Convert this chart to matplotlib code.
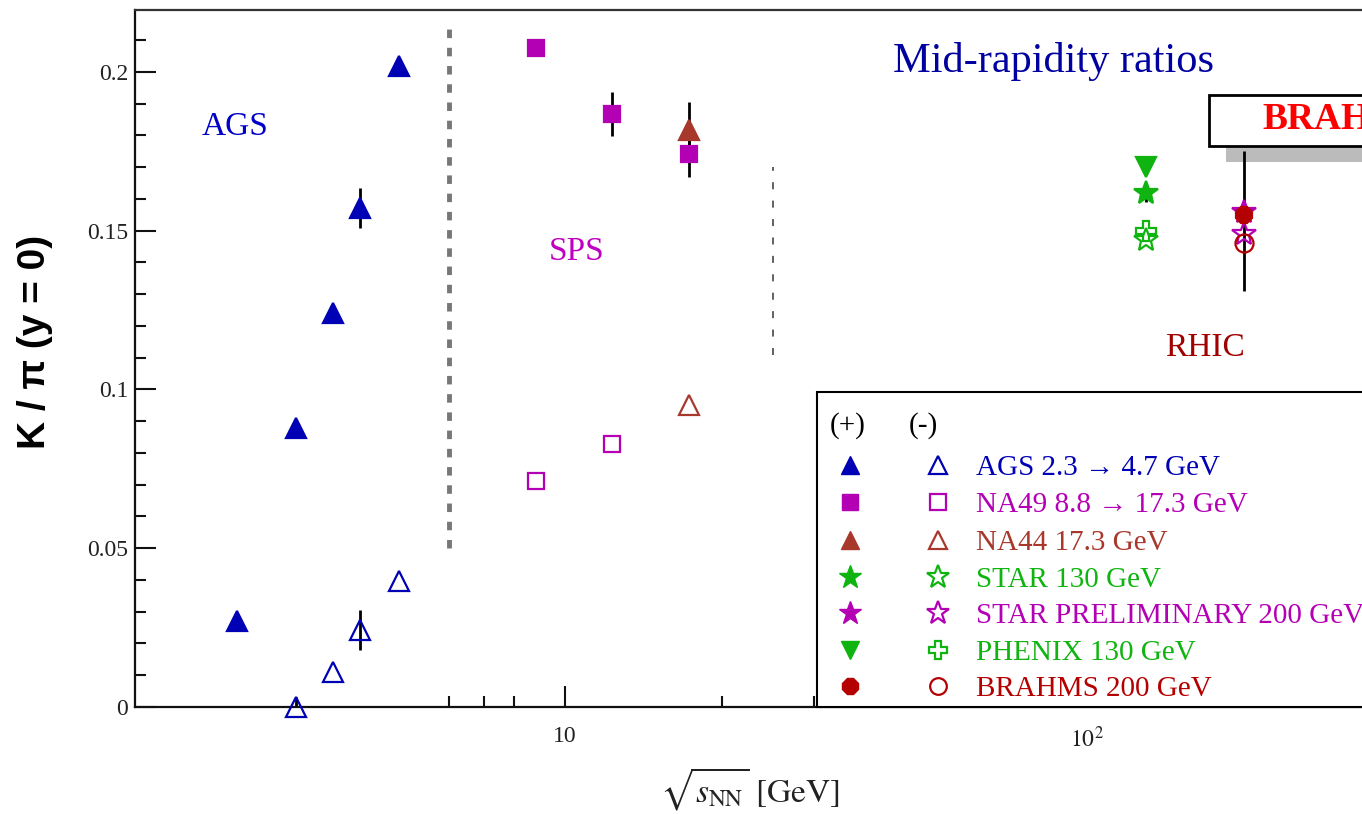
import matplotlib
matplotlib.use("Agg")
import matplotlib.pyplot as plt
from matplotlib.patches import Rectangle
from matplotlib.ticker import FixedLocator, MultipleLocator, NullFormatter

# ---------------- data: K/pi ratios at mid-rapidity ----------------
ags_sqrts_pos = [2.35, 3.05, 3.6, 4.05, 4.8]
ags_kpi_pos = [0.027, 0.088, 0.124, 0.157, 0.202]
ags_err_pos = [0.0, 0.0, 0.0, 0.0063, 0.0]
ags_sqrts_neg = [3.05, 3.6, 4.05, 4.8]
ags_kpi_neg = [0.0, 0.011, 0.0243, 0.0397]
ags_err_neg = [0.003, 0.0, 0.0062, 0.0]

na49_sqrts_pos = [8.8, 12.3, 17.3]
na49_kpi_pos = [0.2076, 0.1868, 0.1742]
na49_err_pos = [0.0, 0.007, 0.0073]
na49_sqrts_neg = [8.8, 12.3]
na49_kpi_neg = [0.0712, 0.0828]

na44_sqrts = [17.3]
na44_kpi_pos = [0.1817]
na44_err_pos = [0.0088]
na44_kpi_neg = [0.0951]

star130_sqrts = [130]
star130_kpi_pos = [0.162]
star130_kpi_neg = [0.147]

phenix130_sqrts = [130]
phenix130_kpi_pos = [0.170]
phenix130_kpi_neg = [0.150]

star200_sqrts = [200]
star200_kpi_pos = [0.156]
star200_kpi_neg = [0.149]

brahms200_sqrts = [200]
brahms200_kpi_pos = [0.155]
brahms200_err_lo = [0.024]
brahms200_err_hi = [0.020]
brahms200_kpi_neg = [0.146]

y_ticks = [0, 0.05, 0.1, 0.15, 0.2]
y_ticklabels = ["0", "0.05", "0.1", "0.15", "0.2"]
x_ticks = [10, 100]
x_ticklabels = ["10", r"$10^{2}$"]
x_minor = [6, 7, 8, 20, 30, 40, 50, 70, 80, 90, 200, 300]

legend_labels = [
    "AGS 2.3 \u2192 4.7 GeV",
    "NA49 8.8 \u2192 17.3 GeV",
    "NA44 17.3 GeV",
    "STAR 130 GeV",
    "STAR PRELIMINARY 200 GeV",
    "PHENIX 130 GeV",
    "BRAHMS 200 GeV",
]

# ---------------- styles ----------------
BLUE = "#0000b4"
MAGENTA = "#b400b4"
BROWN = "#a8372c"
GREEN = "#10b410"
DARKRED = "#b40000"

legend_styles = [
    (BLUE, "^", "^", 13),
    (MAGENTA, "s", "s", 11),
    (BROWN, "^", "^", 13),
    (GREEN, "*", "*", 17),
    (MAGENTA, "*", "*", 17),
    (GREEN, "v", "P", 13),
    (DARKRED, "8", "o", 12),
]

SERIF = ["Liberation Serif", "DejaVu Serif"]
plt.rcParams["mathtext.fontset"] = "stix"

W, H = 1362, 814
fig = plt.figure(figsize=(W / 100, H / 100), dpi=100)


def fx(px):
    return px / W


def fy(py):
    return 1 - py / H


x_lo, x_hi = 1.5, 400
ax_left, ax_right, ax_top, ax_bottom = 135, 1401, 10, 707
ax = fig.add_axes([fx(ax_left), fy(ax_bottom), (ax_right - ax_left) / W,
                   (ax_bottom - ax_top) / H])
ax.set_xscale("log")

# region separators
ax.plot([6, 6], [0.05, 0.216], color="#777777", lw=3.5,
        ls=(0, (1.75, 2.0)), solid_capstyle="butt", zorder=1)
ax.plot([25, 25], [0.111, 0.170], color="#555555", lw=1.3,
        ls=(0, (3.9, 6.3)), zorder=1)

err_kw = dict(fmt="none", ecolor="black", elinewidth=2, capsize=0, zorder=2)


def series(x, y, color, marker, ms, filled, yerr=None):
    if yerr is not None:
        ax.errorbar(x, y, yerr=yerr, **err_kw)
    ax.plot(x, y, ls="none", marker=marker, ms=ms, color=color,
            mfc=color if filled else "none", mec=color, mew=1.6,
            clip_on=False, zorder=3)


# AGS
series(ags_sqrts_pos, ags_kpi_pos, BLUE, "^", 14, True, ags_err_pos)
series(ags_sqrts_neg, ags_kpi_neg, BLUE, "^", 14, False, ags_err_neg)
# SPS
series(na49_sqrts_pos, na49_kpi_pos, MAGENTA, "s", 12, True, na49_err_pos)
series(na49_sqrts_neg, na49_kpi_neg, MAGENTA, "s", 12, False)
series(na44_sqrts, na44_kpi_pos, BROWN, "^", 14, True, na44_err_pos)
series(na44_sqrts, na44_kpi_neg, BROWN, "^", 14, False)
# RHIC
series(phenix130_sqrts, phenix130_kpi_neg, GREEN, "P", 14, False)
series(star130_sqrts, star130_kpi_neg, GREEN, "*", 18, False)
series(phenix130_sqrts, phenix130_kpi_pos, GREEN, "v", 14, True, [0.002])
series(star130_sqrts, star130_kpi_pos, GREEN, "*", 18, True, [0.003])
series(star200_sqrts, star200_kpi_pos, MAGENTA, "*", 18, True)
series(star200_sqrts, star200_kpi_neg, MAGENTA, "*", 18, False)
series(brahms200_sqrts, brahms200_kpi_neg, DARKRED, "o", 13, False)
series(brahms200_sqrts, brahms200_kpi_pos, DARKRED, "8", 13, True,
       [brahms200_err_lo, brahms200_err_hi])

ax.set_xlim(x_lo, x_hi)
ax.set_ylim(0, 0.2195)

# axes styling
for side in ("left", "bottom", "top", "right"):
    ax.spines[side].set_linewidth(1.6)
    ax.spines[side].set_color("#111111")
ax.spines["top"].set_color("#333333")

ax.xaxis.set_major_locator(FixedLocator(x_ticks))
ax.xaxis.set_minor_locator(FixedLocator(x_minor))
ax.xaxis.set_minor_formatter(NullFormatter())
ax.set_xticklabels(x_ticklabels)
ax.set_yticks(y_ticks)
ax.set_yticklabels(y_ticklabels)
ax.yaxis.set_minor_locator(MultipleLocator(0.01))

ax.tick_params(which="both", direction="in", width=1.5, colors="#111111",
               top=False, right=False)
ax.tick_params(which="major", length=15)
ax.tick_params(which="minor", length=8)
ax.tick_params(axis="y", which="major", pad=5, labelsize=17, labelcolor="#222222")
ax.tick_params(axis="x", which="major", pad=14, labelsize=17, labelcolor="#222222")
for lab in ax.get_xticklabels() + ax.get_yticklabels():
    lab.set_fontfamily(SERIF)

# axis titles
fig.text(fx(35), fy(342), "K / \u03c0 (y = 0)", rotation=90, ha="center",
         va="center", fontsize=28, fontweight="bold",
         family=["Liberation Sans", "DejaVu Sans"])
fig.text(fx(750), fy(789), r"$\sqrt{s_{\mathrm{NN}}}\ [\mathrm{GeV}]$",
         ha="center", va="center", fontsize=24, color="#222222")

# region labels
fig.text(fx(202), fy(135), "AGS", family=SERIF, fontsize=24, color="#0000c8",
         va="baseline")
fig.text(fx(549), fy(260), "SPS", family=SERIF, fontsize=24, color="#c000c0",
         va="baseline")
fig.text(fx(1165), fy(356), "RHIC", family=SERIF, fontsize=24, color="#a00000",
         va="baseline")
fig.text(fx(893), fy(72), "Mid-rapidity ratios", family=SERIF, fontsize=30.5,
         color="#0000a0", va="baseline")

# BRAHMS banner with drop shadow
ax.add_patch(Rectangle((fx(1226), fy(162)), 0.3, (162 - 146) / H,
                       transform=fig.transFigure, facecolor="#bbbbbb",
                       edgecolor="none", clip_on=False, zorder=0.4))
ax.add_patch(Rectangle((fx(1209), fy(146)), 0.3, (146 - 95) / H,
                       transform=fig.transFigure, facecolor="white",
                       edgecolor="black", lw=2.0, clip_on=False, zorder=0.5))
fig.text(fx(1262), fy(129), "BRAHMS", family=SERIF, fontsize=27,
         fontweight="bold", color="#ff0000", va="baseline")

# legend box
ax.add_patch(Rectangle((fx(817), fy(ax_bottom)), 0.5, (ax_bottom - 392) / H,
                       transform=fig.transFigure, facecolor="white",
                       edgecolor="black", lw=1.5, clip_on=False, zorder=5))
fig.text(fx(830), fy(433), "(+)", family=SERIF, fontsize=21, va="baseline")
fig.text(fx(909), fy(433), "(-)", family=SERIF, fontsize=21, va="baseline")

row_y = [465, 502, 540, 577, 613, 650, 686]
for yy, label, (col, m_pos, m_neg, ms) in zip(row_y, legend_labels,
                                               legend_styles):
    ax.plot([fx(850)], [fy(yy)], transform=fig.transFigure, ls="none",
            marker=m_pos, ms=ms, color=col, mec=col, clip_on=False, zorder=6)
    ax.plot([fx(938)], [fy(yy)], transform=fig.transFigure, ls="none",
            marker=m_neg, ms=ms, mfc="none", mec=col, mew=1.6,
            clip_on=False, zorder=6)
    fig.text(fx(976), fy(yy + 10), label, family=SERIF, fontsize=21,
             color=col, va="baseline", zorder=7)

fig.savefig("out.png", dpi=100)
